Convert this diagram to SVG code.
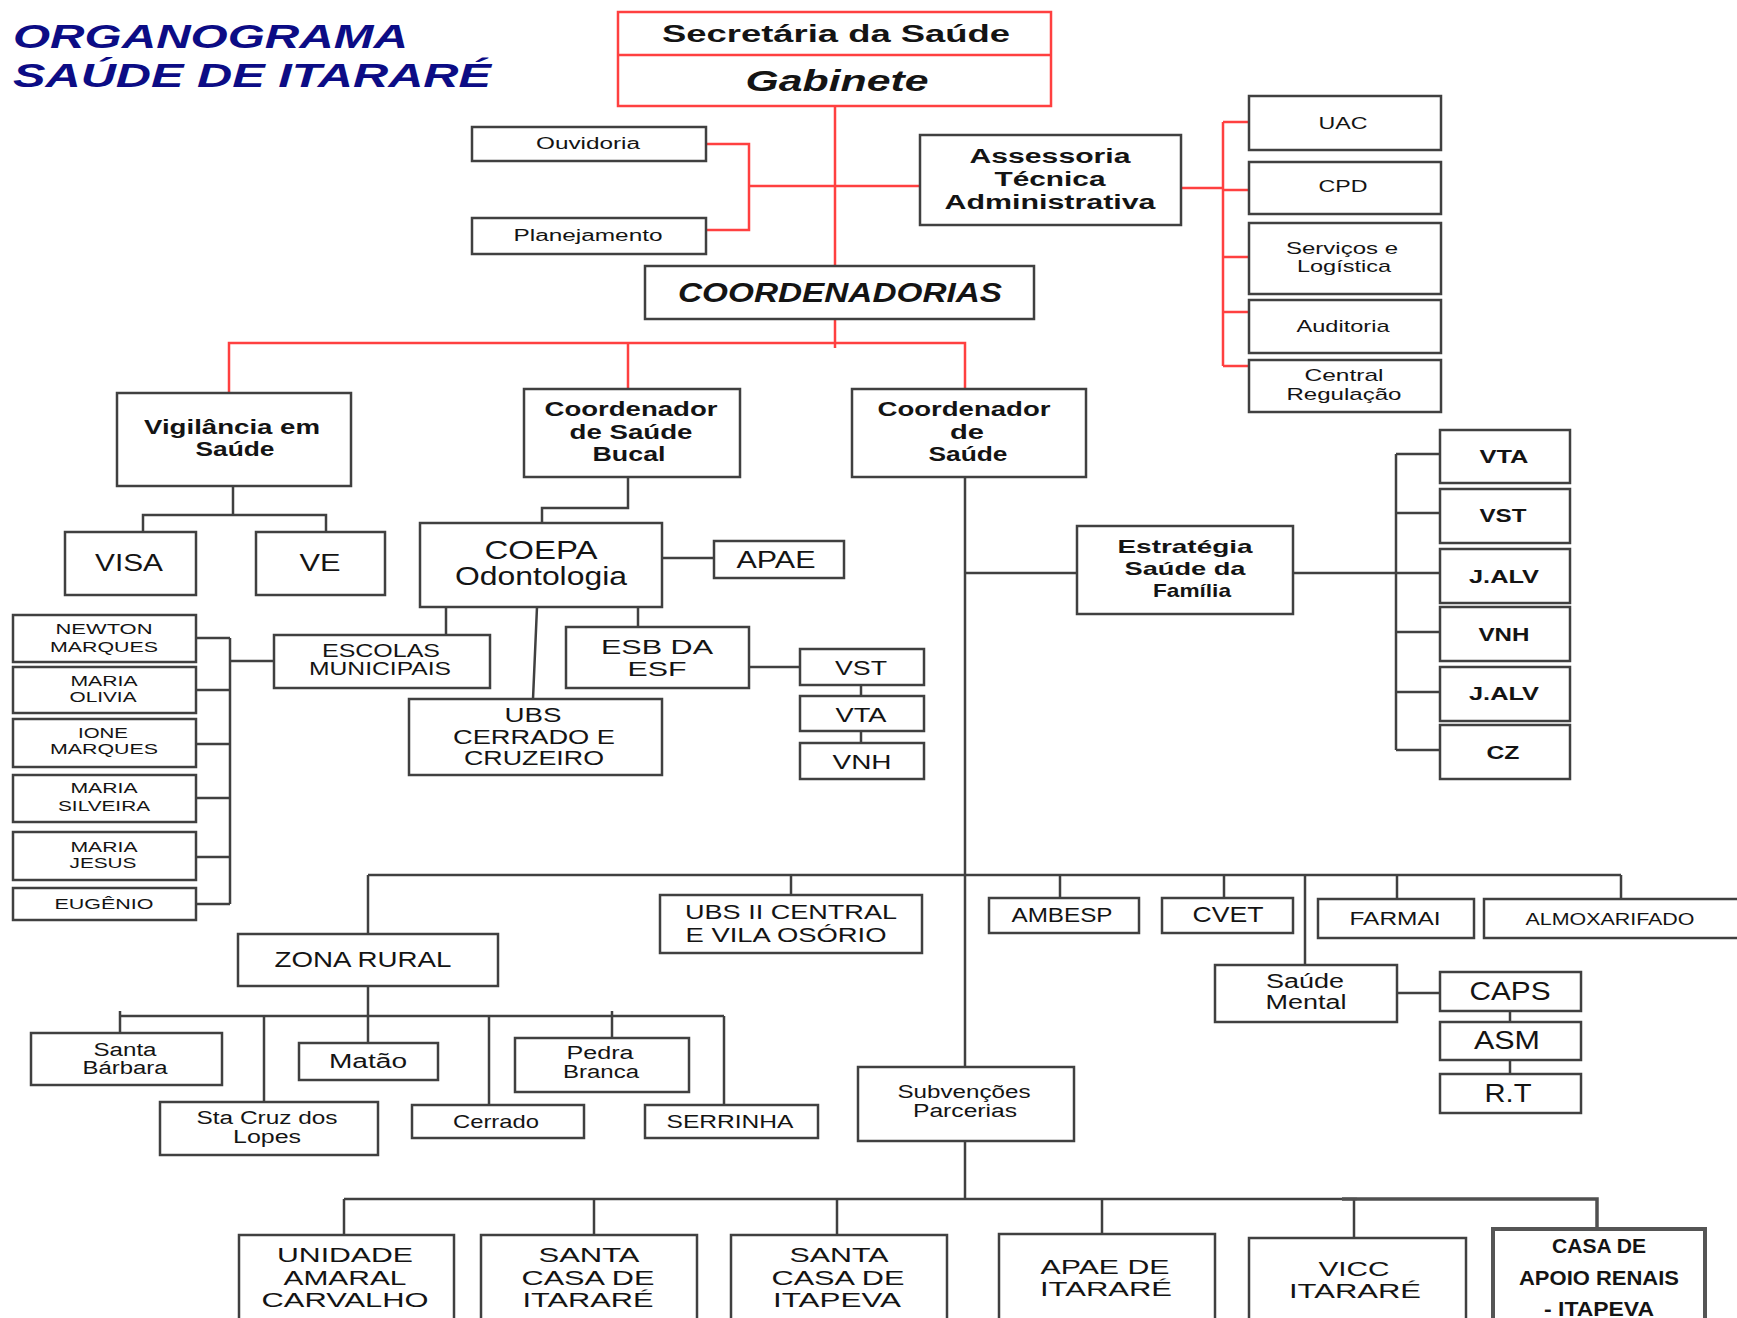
<svg xmlns="http://www.w3.org/2000/svg" width="1737" height="1318" viewBox="0 0 1737 1318">
<style>
.b{fill:#fff;stroke:#404040;stroke-width:2.5}
.rb{fill:#fff;stroke:#ff4040;stroke-width:2.5}
.c{fill:none;stroke:#404040;stroke-width:2.5}
.r{fill:none;stroke:#ff4040;stroke-width:2.5}
text{font-family:"Liberation Sans",Arial,sans-serif;fill:#141414;text-anchor:middle}
.n{font-family:"Liberation Sans Narrow","Liberation Sans",Arial,sans-serif}
.bd{font-weight:bold}
.it{font-style:italic}
.title{font-weight:bold;font-style:italic;fill:#0c0c85;text-anchor:start;font-size:34px}
</style>
<rect width="1737" height="1318" fill="#fff"/>
<g id="title">
<text class="title" x="13" y="48" textLength="395" lengthAdjust="spacingAndGlyphs">ORGANOGRAMA</text>
<text class="title" x="13" y="87" textLength="478" lengthAdjust="spacingAndGlyphs">SAÚDE DE ITARARÉ</text>
</g>
<g id="connectors">
<path class="c" d="M143,532 V515 H326 V532 M233,486 V515"/>
<path class="c" d="M628,477 V508 H542 V523 M662,558 H714 M446,607 V635 M537,607 L533,699 M638,607 V627 M749,667 H800 M861,685 V696 M861,731 V743"/>
<path class="c" d="M274,661 H230 M230,638 V904 M196,638 H230 M196,690 H230 M196,744 H230 M196,798 H230 M196,857 H230 M196,904 H230"/>
<path class="c" d="M965,477 V1067 M965,1141 V1199 M965,573 H1077 M1293,573 H1440 M1396,454 V750 M1396,454 H1440 M1396,513 H1440 M1396,632 H1440 M1396,692 H1440 M1396,750 H1440"/>
<path class="c" d="M368,875 H1621 M368,875 V934 M791,875 V895 M1060,875 V898 M1224,875 V898 M1305,875 V965 M1397,875 V899 M1621,875 V899"/>
<path class="c" d="M1397,993 H1440 M1510,1011 V1022 M1510,1060 V1074"/>
<path class="c" d="M368,986 V1016 M120,1016 H724 M120,1011 V1033 M264,1016 V1102 M368,1016 V1043 M489,1016 V1105 M612,1011 V1038 M724,1016 V1105"/>
<path class="c" d="M344,1199 H1357 M344,1199 V1235 M594,1199 V1235 M837,1199 V1235 M1102,1199 V1234 M1354,1199 V1238"/>
<path d="M1342,1199 H1597 V1227" fill="none" stroke="#505050" stroke-width="3.5"/>
<path class="r" d="M835,106 V266 M706,144 H749 V230 H706 M749,186 H920 M835,319 V348 M229,393 V343 H965 V389 M628,343 V389"/>
<path class="r" d="M1181,188 H1223 M1223,122 V366 M1223,122 H1249 M1223,190 H1249 M1223,257 H1249 M1223,312 H1249 M1223,366 H1249"/>
</g>
<g id="secretaria">
<rect class="rb" x="618" y="12" width="433" height="94"/>
<path class="r" d="M618,55 H1051"/>
<text class="bd" x="836" y="42" font-size="24" textLength="348" lengthAdjust="spacingAndGlyphs">Secretária da Saúde</text>
<text class="bd it" x="837" y="91" font-size="30" textLength="183" lengthAdjust="spacingAndGlyphs">Gabinete</text>
</g>
<g id="ouvidoria"><rect class="b" x="472" y="127" width="234" height="34"/><text x="588" y="149" font-size="16" textLength="104" lengthAdjust="spacingAndGlyphs">Ouvidoria</text></g>
<g id="planejamento"><rect class="b" x="472" y="218" width="234" height="36"/><text x="588" y="241" font-size="16" textLength="149" lengthAdjust="spacingAndGlyphs">Planejamento</text></g>
<g id="assessoria"><rect class="b" x="920" y="135" width="261" height="90"/>
<text class="bd" x="1050" y="163" font-size="20" textLength="161" lengthAdjust="spacingAndGlyphs">Assessoria</text>
<text class="bd" x="1050" y="186" font-size="20" textLength="111" lengthAdjust="spacingAndGlyphs">Técnica</text>
<text class="bd" x="1050" y="209" font-size="20" textLength="211" lengthAdjust="spacingAndGlyphs">Administrativa</text></g>
<g id="coordenadorias"><rect class="b" x="645" y="266" width="389" height="53"/><text class="bd it" x="840" y="302" font-size="27" textLength="324" lengthAdjust="spacingAndGlyphs">COORDENADORIAS</text></g>
<g id="uac"><rect class="b" x="1249" y="96" width="192" height="54"/><text x="1343" y="129" font-size="17" textLength="49" lengthAdjust="spacingAndGlyphs">UAC</text></g>
<g id="cpd"><rect class="b" x="1249" y="162" width="192" height="52"/><text x="1343" y="192" font-size="17" textLength="49" lengthAdjust="spacingAndGlyphs">CPD</text></g>
<g id="servicos"><rect class="b" x="1249" y="223" width="192" height="71"/>
<text x="1342" y="254" font-size="17" textLength="112" lengthAdjust="spacingAndGlyphs">Serviços e</text>
<text x="1344" y="272" font-size="17" textLength="94" lengthAdjust="spacingAndGlyphs">Logística</text></g>
<g id="auditoria"><rect class="b" x="1249" y="300" width="192" height="53"/><text x="1343" y="332" font-size="17" textLength="93" lengthAdjust="spacingAndGlyphs">Auditoria</text></g>
<g id="central"><rect class="b" x="1249" y="360" width="192" height="52"/>
<text x="1344" y="381" font-size="17" textLength="79" lengthAdjust="spacingAndGlyphs">Central</text>
<text x="1344" y="400" font-size="17" textLength="115" lengthAdjust="spacingAndGlyphs">Regulação</text></g>
<g id="vigilancia"><rect class="b" x="117" y="393" width="234" height="93"/>
<text class="bd" x="232" y="434" font-size="20" textLength="176" lengthAdjust="spacingAndGlyphs">Vigilância em</text>
<text class="bd" x="235" y="456" font-size="20" textLength="79" lengthAdjust="spacingAndGlyphs">Saúde</text></g>
<g id="bucal"><rect class="b" x="524" y="389" width="216" height="88"/>
<text class="bd" x="631" y="416" font-size="20" textLength="173" lengthAdjust="spacingAndGlyphs">Coordenador</text>
<text class="bd" x="631" y="439" font-size="20" textLength="123" lengthAdjust="spacingAndGlyphs">de Saúde</text>
<text class="bd" x="629" y="461" font-size="20" textLength="73" lengthAdjust="spacingAndGlyphs">Bucal</text></g>
<g id="coordsaude"><rect class="b" x="852" y="389" width="234" height="88"/>
<text class="bd" x="964" y="416" font-size="20" textLength="173" lengthAdjust="spacingAndGlyphs">Coordenador</text>
<text class="bd" x="967" y="439" font-size="20" textLength="34" lengthAdjust="spacingAndGlyphs">de</text>
<text class="bd" x="968" y="461" font-size="20" textLength="79" lengthAdjust="spacingAndGlyphs">Saúde</text></g>
<g id="visa"><rect class="b" x="65" y="532" width="131" height="63"/><text x="129" y="571" font-size="24" textLength="68" lengthAdjust="spacingAndGlyphs">VISA</text></g>
<g id="ve"><rect class="b" x="256" y="532" width="129" height="63"/><text x="320" y="571" font-size="24" textLength="41" lengthAdjust="spacingAndGlyphs">VE</text></g>
<g id="coepa"><rect class="b" x="420" y="523" width="242" height="84"/>
<text x="541" y="559" font-size="25" textLength="113" lengthAdjust="spacingAndGlyphs">COEPA</text>
<text x="541" y="585" font-size="25" textLength="172" lengthAdjust="spacingAndGlyphs">Odontologia</text></g>
<g id="apae"><rect class="b" x="714" y="541" width="130" height="37"/><text x="776" y="568" font-size="24" textLength="79" lengthAdjust="spacingAndGlyphs">APAE</text></g>
<g id="escolas"><rect class="b" x="274" y="635" width="216" height="53"/>
<text x="381" y="657" font-size="18" textLength="118" lengthAdjust="spacingAndGlyphs">ESCOLAS</text>
<text x="380" y="675" font-size="18" textLength="142" lengthAdjust="spacingAndGlyphs">MUNICIPAIS</text></g>
<g id="esb"><rect class="b" x="566" y="627" width="183" height="61"/>
<text x="657" y="654" font-size="21" textLength="112" lengthAdjust="spacingAndGlyphs">ESB DA</text>
<text x="657" y="676" font-size="21" textLength="59" lengthAdjust="spacingAndGlyphs">ESF</text></g>
<g id="ubs-cerrado"><rect class="b" x="409" y="699" width="253" height="76"/>
<text x="533" y="722" font-size="20" textLength="57" lengthAdjust="spacingAndGlyphs">UBS</text>
<text x="534" y="744" font-size="20" textLength="162" lengthAdjust="spacingAndGlyphs">CERRADO E</text>
<text x="534" y="765" font-size="20" textLength="140" lengthAdjust="spacingAndGlyphs">CRUZEIRO</text></g>
<g id="esb-vst"><rect class="b" x="800" y="649" width="124" height="36"/><text x="861" y="675" font-size="21" textLength="52" lengthAdjust="spacingAndGlyphs">VST</text></g>
<g id="esb-vta"><rect class="b" x="800" y="696" width="124" height="35"/><text x="861" y="722" font-size="21" textLength="51" lengthAdjust="spacingAndGlyphs">VTA</text></g>
<g id="esb-vnh"><rect class="b" x="800" y="743" width="124" height="36"/><text x="862" y="769" font-size="21" textLength="59" lengthAdjust="spacingAndGlyphs">VNH</text></g>
<g id="newton"><rect class="b" x="13" y="615" width="183" height="47"/>
<text x="104" y="634" font-size="15" textLength="97" lengthAdjust="spacingAndGlyphs">NEWTON</text>
<text x="104" y="652" font-size="15" textLength="108" lengthAdjust="spacingAndGlyphs">MARQUES</text></g>
<g id="maria-olivia"><rect class="b" x="13" y="667" width="183" height="46"/>
<text x="104" y="686" font-size="15" textLength="67" lengthAdjust="spacingAndGlyphs">MARIA</text>
<text x="103" y="702" font-size="15" textLength="67" lengthAdjust="spacingAndGlyphs">OLIVIA</text></g>
<g id="ione"><rect class="b" x="13" y="719" width="183" height="48"/>
<text x="103" y="738" font-size="15" textLength="50" lengthAdjust="spacingAndGlyphs">IONE</text>
<text x="104" y="754" font-size="15" textLength="108" lengthAdjust="spacingAndGlyphs">MARQUES</text></g>
<g id="maria-silveira"><rect class="b" x="13" y="775" width="183" height="47"/>
<text x="104" y="793" font-size="15" textLength="67" lengthAdjust="spacingAndGlyphs">MARIA</text>
<text x="104" y="811" font-size="15" textLength="92" lengthAdjust="spacingAndGlyphs">SILVEIRA</text></g>
<g id="maria-jesus"><rect class="b" x="13" y="832" width="183" height="48"/>
<text x="104" y="852" font-size="15" textLength="67" lengthAdjust="spacingAndGlyphs">MARIA</text>
<text x="103" y="868" font-size="15" textLength="67" lengthAdjust="spacingAndGlyphs">JESUS</text></g>
<g id="eugenio"><rect class="b" x="13" y="888" width="183" height="32"/><text x="104" y="909" font-size="15" textLength="99" lengthAdjust="spacingAndGlyphs">EUGÊNIO</text></g>
<g id="estrategia"><rect class="b" x="1077" y="526" width="216" height="88"/>
<text class="bd" x="1185" y="553" font-size="19" textLength="135" lengthAdjust="spacingAndGlyphs">Estratégia</text>
<text class="bd" x="1185" y="575" font-size="19" textLength="121" lengthAdjust="spacingAndGlyphs">Saúde da</text>
<text class="bd" x="1192" y="597" font-size="19" textLength="78" lengthAdjust="spacingAndGlyphs">Família</text></g>
<g id="esf-vta"><rect class="b" x="1440" y="430" width="130" height="53"/><text class="bd" x="1504" y="463" font-size="18" textLength="49" lengthAdjust="spacingAndGlyphs">VTA</text></g>
<g id="esf-vst"><rect class="b" x="1440" y="489" width="130" height="54"/><text class="bd" x="1503" y="522" font-size="18" textLength="47" lengthAdjust="spacingAndGlyphs">VST</text></g>
<g id="esf-jalv1"><rect class="b" x="1440" y="549" width="130" height="54"/><text class="bd" x="1504" y="583" font-size="18" textLength="70" lengthAdjust="spacingAndGlyphs">J.ALV</text></g>
<g id="esf-vnh"><rect class="b" x="1440" y="607" width="130" height="54"/><text class="bd" x="1504" y="641" font-size="18" textLength="51" lengthAdjust="spacingAndGlyphs">VNH</text></g>
<g id="esf-jalv2"><rect class="b" x="1440" y="667" width="130" height="54"/><text class="bd" x="1504" y="700" font-size="18" textLength="70" lengthAdjust="spacingAndGlyphs">J.ALV</text></g>
<g id="esf-cz"><rect class="b" x="1440" y="725" width="130" height="54"/><text class="bd" x="1503" y="759" font-size="18" textLength="33" lengthAdjust="spacingAndGlyphs">CZ</text></g>
<g id="ubs-central"><rect class="b" x="660" y="895" width="262" height="58"/>
<text class="n" x="791" y="919" font-size="21" textLength="212" lengthAdjust="spacingAndGlyphs">UBS II CENTRAL</text>
<text class="n" x="786" y="942" font-size="21" textLength="201" lengthAdjust="spacingAndGlyphs">E VILA OSÓRIO</text></g>
<g id="ambesp"><rect class="b" x="989" y="898" width="150" height="35"/><text class="n" x="1062" y="922" font-size="20" textLength="101" lengthAdjust="spacingAndGlyphs">AMBESP</text></g>
<g id="cvet"><rect class="b" x="1162" y="898" width="131" height="35"/><text class="n" x="1228" y="922" font-size="22" textLength="71" lengthAdjust="spacingAndGlyphs">CVET</text></g>
<g id="farmai"><rect class="b" x="1318" y="899" width="156" height="39"/><text class="n" x="1395" y="925" font-size="19" textLength="91" lengthAdjust="spacingAndGlyphs">FARMAI</text></g>
<g id="almoxarifado"><rect class="b" x="1484" y="899" width="262" height="39"/><text class="n" x="1610" y="925" font-size="17" textLength="169" lengthAdjust="spacingAndGlyphs">ALMOXARIFADO</text></g>
<g id="zona-rural"><rect class="b" x="238" y="934" width="260" height="52"/><text class="n" x="363" y="967" font-size="22" textLength="177" lengthAdjust="spacingAndGlyphs">ZONA RURAL</text></g>
<g id="santa-barbara"><rect class="b" x="31" y="1033" width="191" height="52"/>
<text class="n" x="125" y="1056" font-size="18" textLength="63" lengthAdjust="spacingAndGlyphs">Santa</text>
<text class="n" x="125" y="1074" font-size="18" textLength="85" lengthAdjust="spacingAndGlyphs">Bárbara</text></g>
<g id="sta-cruz"><rect class="b" x="160" y="1102" width="218" height="53"/>
<text class="n" x="267" y="1124" font-size="18" textLength="141" lengthAdjust="spacingAndGlyphs">Sta Cruz dos</text>
<text class="n" x="267" y="1143" font-size="18" textLength="68" lengthAdjust="spacingAndGlyphs">Lopes</text></g>
<g id="matao"><rect class="b" x="299" y="1043" width="139" height="37"/><text class="n" x="368" y="1068" font-size="20" textLength="78" lengthAdjust="spacingAndGlyphs">Matão</text></g>
<g id="cerrado"><rect class="b" x="412" y="1105" width="172" height="33"/><text class="n" x="496" y="1128" font-size="19" textLength="86" lengthAdjust="spacingAndGlyphs">Cerrado</text></g>
<g id="pedra-branca"><rect class="b" x="515" y="1038" width="174" height="54"/>
<text class="n" x="600" y="1059" font-size="18" textLength="67" lengthAdjust="spacingAndGlyphs">Pedra</text>
<text class="n" x="601" y="1078" font-size="18" textLength="76" lengthAdjust="spacingAndGlyphs">Branca</text></g>
<g id="serrinha"><rect class="b" x="645" y="1105" width="173" height="33"/><text class="n" x="730" y="1128" font-size="19" textLength="127" lengthAdjust="spacingAndGlyphs">SERRINHA</text></g>
<g id="subvencoes"><rect class="b" x="858" y="1067" width="216" height="74"/>
<text class="n" x="964" y="1098" font-size="18" textLength="133" lengthAdjust="spacingAndGlyphs">Subvenções</text>
<text class="n" x="965" y="1117" font-size="18" textLength="104" lengthAdjust="spacingAndGlyphs">Parcerias</text></g>
<g id="saude-mental"><rect class="b" x="1215" y="965" width="182" height="57"/>
<text class="n" x="1305" y="988" font-size="20" textLength="78" lengthAdjust="spacingAndGlyphs">Saúde</text>
<text class="n" x="1306" y="1009" font-size="20" textLength="81" lengthAdjust="spacingAndGlyphs">Mental</text></g>
<g id="caps"><rect class="b" x="1440" y="972" width="141" height="39"/><text class="n" x="1510" y="1000" font-size="25" textLength="81" lengthAdjust="spacingAndGlyphs">CAPS</text></g>
<g id="asm"><rect class="b" x="1440" y="1022" width="141" height="38"/><text class="n" x="1507" y="1049" font-size="25" textLength="66" lengthAdjust="spacingAndGlyphs">ASM</text></g>
<g id="rt"><rect class="b" x="1440" y="1074" width="141" height="39"/><text class="n" x="1508" y="1102" font-size="25" textLength="47" lengthAdjust="spacingAndGlyphs">R.T</text></g>
<g id="unidade"><rect class="b" x="239" y="1235" width="215" height="100"/>
<text class="n" x="345" y="1262" font-size="21" textLength="136" lengthAdjust="spacingAndGlyphs">UNIDADE</text>
<text class="n" x="345" y="1285" font-size="21" textLength="123" lengthAdjust="spacingAndGlyphs">AMARAL</text>
<text class="n" x="345" y="1307" font-size="21" textLength="167" lengthAdjust="spacingAndGlyphs">CARVALHO</text></g>
<g id="santa-casa-itarare"><rect class="b" x="481" y="1235" width="216" height="100"/>
<text class="n" x="589" y="1262" font-size="21" textLength="101" lengthAdjust="spacingAndGlyphs">SANTA</text>
<text class="n" x="588" y="1285" font-size="21" textLength="133" lengthAdjust="spacingAndGlyphs">CASA DE</text>
<text class="n" x="588" y="1307" font-size="21" textLength="131" lengthAdjust="spacingAndGlyphs">ITARARÉ</text></g>
<g id="santa-casa-itapeva"><rect class="b" x="731" y="1235" width="216" height="100"/>
<text class="n" x="839" y="1262" font-size="21" textLength="99" lengthAdjust="spacingAndGlyphs">SANTA</text>
<text class="n" x="838" y="1285" font-size="21" textLength="133" lengthAdjust="spacingAndGlyphs">CASA DE</text>
<text class="n" x="837" y="1307" font-size="21" textLength="128" lengthAdjust="spacingAndGlyphs">ITAPEVA</text></g>
<g id="apae-itarare"><rect class="b" x="999" y="1234" width="216" height="100"/>
<text class="n" x="1105" y="1274" font-size="21" textLength="129" lengthAdjust="spacingAndGlyphs">APAE DE</text>
<text class="n" x="1106" y="1296" font-size="21" textLength="132" lengthAdjust="spacingAndGlyphs">ITARARÉ</text></g>
<g id="vicc"><rect class="b" x="1249" y="1238" width="217" height="100"/>
<text class="n" x="1354" y="1276" font-size="21" textLength="71" lengthAdjust="spacingAndGlyphs">VICC</text>
<text class="n" x="1355" y="1298" font-size="21" textLength="132" lengthAdjust="spacingAndGlyphs">ITARARÉ</text></g>
<g id="casa-apoio"><rect x="1493" y="1229" width="212" height="110" fill="#fff" stroke="#555" stroke-width="4"/>
<text class="n bd" x="1599" y="1253" font-size="21" textLength="94" lengthAdjust="spacingAndGlyphs">CASA DE</text>
<text class="n bd" x="1599" y="1285" font-size="21" textLength="160" lengthAdjust="spacingAndGlyphs">APOIO RENAIS</text>
<text class="n bd" x="1599" y="1316" font-size="21" textLength="110" lengthAdjust="spacingAndGlyphs">- ITAPEVA</text></g>
</svg>
